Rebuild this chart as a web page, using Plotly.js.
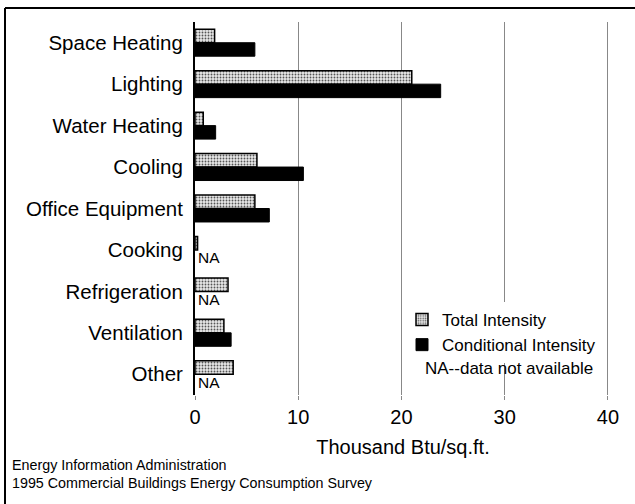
<!DOCTYPE html>
<html>
<head>
<meta charset="utf-8">
<script src="https://cdn.plot.ly/plotly-3.0.1.min.js"></script>
<style>html,body{margin:0;padding:0;background:#fff;}#chart{width:635px;height:504px;}</style>
</head>
<body>
<div id="chart"></div>
<script>
// Data (thousand Btu per sq.ft.)
var categories = ["Space Heating", "Lighting", "Water Heating", "Cooling", "Office Equipment", "Cooking", "Refrigeration", "Ventilation", "Other"];
var totalIntensity = [1.9, 21.0, 0.8, 6.0, 5.8, 0.25, 3.2, 2.8, 3.7];
var conditionalIntensity = [5.8, 23.8, 2.0, 10.5, 7.2, null, null, 3.5, null];
var xTicks = [0, 10, 20, 30, 40];
var seriesNames = ["Total Intensity", "Conditional Intensity"];
var naNote = "NA--data not available";
var footerLines = ["Energy Information Administration", "1995 Commercial Buildings Energy Consumption Survey"];
var xTitle = "Thousand Btu/sq.ft.";

var FONT = "Liberation Sans, Arial, Helvetica, sans-serif";

// layout geometry (pixels)
var W = 635, H = 504;
var mL = 195, mR = 24, mT = 22, mB = 109;
var pw = W - mL - mR, ph = H - mT - mB;
function px2x(px) { return (px - mL) / pw; }
function py2y(py) { return (H - mB - py) / ph; }

var traces = [
  {
    type: "bar", orientation: "h", name: seriesNames[0],
    y: categories, x: totalIntensity,
    marker: {
      color: "#d4d4d4",
      line: {color: "#000", width: 1.5},
      pattern: {shape: ".", fgcolor: "#555", bgcolor: "#e8e8e8", size: 3, solidity: 0.3}
    },
    hoverinfo: "x+y"
  },
  {
    type: "bar", orientation: "h", name: seriesNames[1],
    y: categories, x: conditionalIntensity,
    marker: {color: "#000", line: {color: "#000", width: 1}},
    hoverinfo: "x+y"
  }
];

var annotations = [];
categories.forEach(function (c, i) {
  if (conditionalIntensity[i] === null) {
    annotations.push({
      x: 0, y: c, xref: "x", yref: "y", text: "NA", showarrow: false,
      xanchor: "left", yanchor: "middle", xshift: 1, yshift: -8,
      font: {family: FONT, size: 15.5, color: "#000"}
    });
  }
});
annotations.push({
  x: px2x(423), y: py2y(368), xref: "paper", yref: "paper", text: naNote,
  showarrow: false, xanchor: "left", yanchor: "middle",
  font: {family: FONT, size: 17, color: "#000"}
});
footerLines.forEach(function (t, i) {
  annotations.push({
    x: px2x(10), y: py2y(465 + i * 18), xref: "paper", yref: "paper", text: t,
    showarrow: false, xanchor: "left", yanchor: "middle",
    font: {family: FONT, size: 14.3, color: "#000"}
  });
});

var shapes = [
  {type: "line", xref: "paper", yref: "paper", x0: px2x(5), x1: px2x(640), y0: py2y(8), y1: py2y(8), line: {color: "#000", width: 2}},
  {type: "line", xref: "paper", yref: "paper", x0: px2x(5), x1: px2x(5), y0: py2y(8), y1: py2y(510), line: {color: "#000", width: 2}}
];

var layout = {
  width: W, height: H,
  margin: {l: mL, r: mR, t: mT, b: mB, pad: 0},
  paper_bgcolor: "#fff", plot_bgcolor: "#fff",
  font: {family: FONT, color: "#000"},
  barmode: "group", bargap: 0.35, bargroupgap: 0,
  showlegend: true,
  legend: {
    x: px2x(402), y: py2y(302), xanchor: "left", yanchor: "top",
    bgcolor: "#fff", borderwidth: 0,
    font: {family: FONT, size: 17, color: "#000"},
    tracegroupgap: 0, itemwidth: 30
  },
  xaxis: {
    range: [0, 40.3], tickvals: xTicks, ticktext: xTicks.map(String),
    showgrid: true, gridcolor: "#888", gridwidth: 1,
    zeroline: false, showline: false,
    ticks: "outside", ticklen: 4, tickcolor: "#888",
    tickfont: {family: FONT, size: 20, color: "#000"},
    title: {text: xTitle, font: {family: FONT, size: 20, color: "#000"}, standoff: 12},
    automargin: false, fixedrange: true
  },
  yaxis: {
    type: "category", autorange: "reversed",
    showgrid: false, zeroline: false,
    showline: true, linecolor: "#000", linewidth: 2,
    ticks: "", ticklabelstandoff: 6,
    tickfont: {family: FONT, size: 20.5, color: "#000"},
    automargin: false, fixedrange: true
  },
  annotations: annotations,
  shapes: shapes
};

Plotly.newPlot("chart", traces, layout, {displayModeBar: false, staticPlot: true});
</script>
</body>
</html>
